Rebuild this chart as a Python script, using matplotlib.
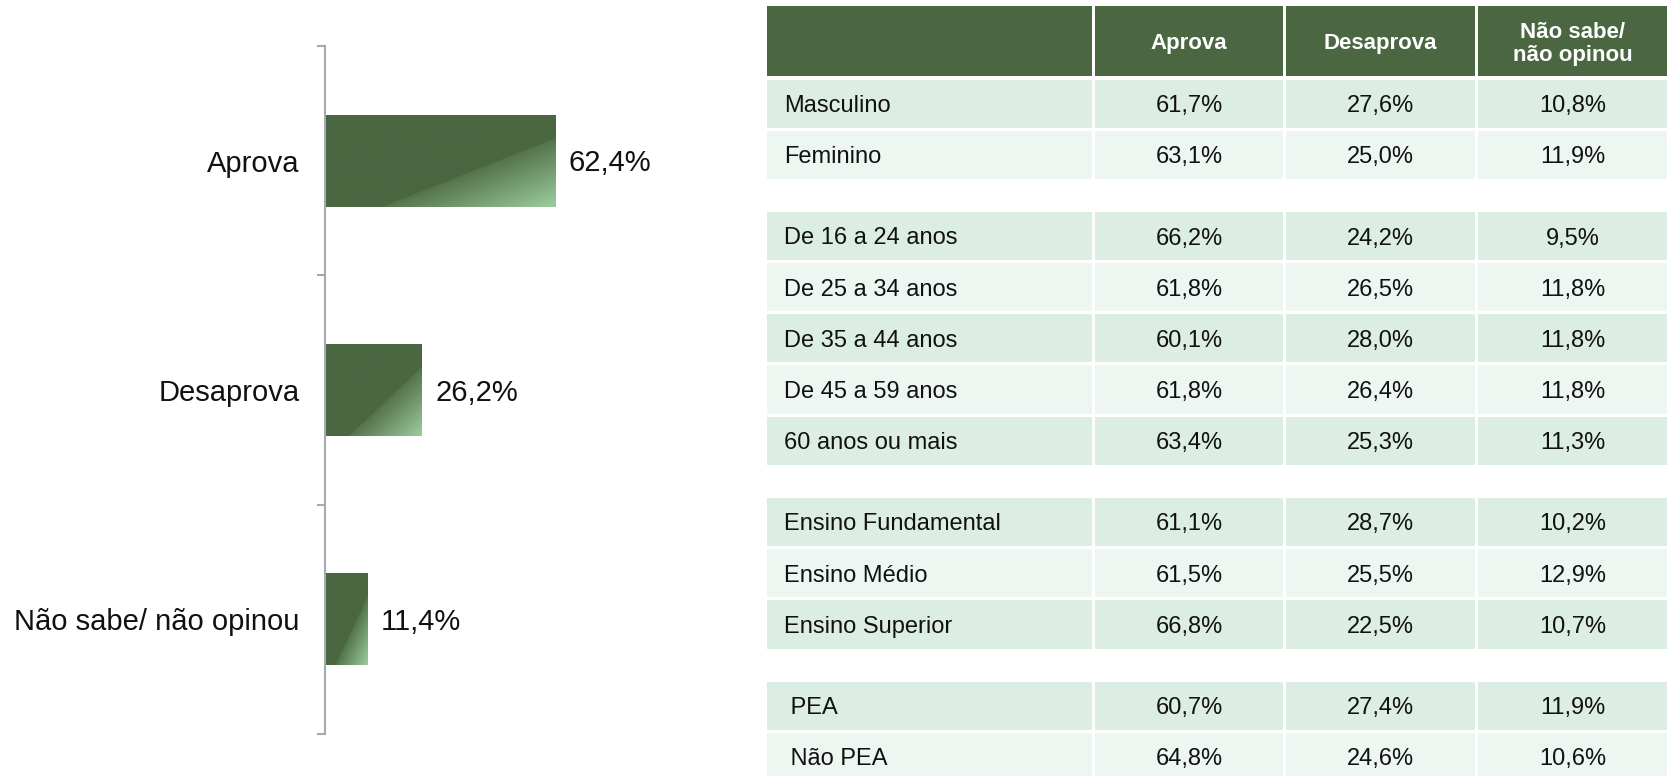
import matplotlib.pyplot as plt
import numpy as np
from matplotlib.patches import Rectangle

plt.rcParams['font.family'] = ['Liberation Sans', 'DejaVu Sans']

# Bar chart data
bar_categories = ['Aprova', 'Desaprova', 'Não sabe/ não opinou']
bar_values = [62.4, 26.2, 11.4]

# Table data
table_columns = ['Aprova', 'Desaprova', 'Não sabe/\nnão opinou']
row_labels = ['Masculino', 'Feminino',
              'De 16 a 24 anos', 'De 25 a 34 anos', 'De 35 a 44 anos',
              'De 45 a 59 anos', '60 anos ou mais',
              'Ensino Fundamental', 'Ensino Médio', 'Ensino Superior',
              ' PEA', ' Não PEA']
group_sizes = [2, 5, 3, 2]
aprova = [61.7, 63.1, 66.2, 61.8, 60.1, 61.8, 63.4, 61.1, 61.5, 66.8, 60.7, 64.8]
desaprova = [27.6, 25.0, 24.2, 26.5, 28.0, 26.4, 25.3, 28.7, 25.5, 22.5, 27.4, 24.6]
nao_sabe = [10.8, 11.9, 9.5, 11.8, 11.8, 11.8, 11.3, 10.2, 12.9, 10.7, 11.9, 10.6]

dark = np.array([74, 103, 65]) / 255
light = np.array([157, 205, 157]) / 255
row_dark = '#dcede3'
row_light = '#eef6f1'
axis_gray = '#a3aab2'

W, H = 1667, 776
fig = plt.figure(figsize=(W / 100, H / 100), dpi=100)


def fmt(v):
    return f'{v:.1f}%'.replace('.', ',')


# ---- left bar chart ----
ax_left, ax_top, ax_bottom = 325, 46, 734
ax = fig.add_axes([ax_left / W, (H - ax_bottom) / H, 368.6 / W, (ax_bottom - ax_top) / H])
y = np.arange(len(bar_categories))
bars = ax.barh(y, bar_values, height=0.4, color=dark, zorder=1)

# diagonal light sheen in the lower-right corner of each bar
u = np.linspace(0, 1, 300)
v = np.linspace(0, 1, 120)
U, V = np.meshgrid(u, v)
s = (U + V - 1.25) / 0.75
grad = np.where(s > 0, 0.12 + 0.88 * np.clip(s, 0, 1), 0.0)
img = dark[None, None, :] * (1 - grad[..., None]) + light[None, None, :] * grad[..., None]

for bar, val in zip(bars, bar_values):
    x0, y0, w, h = bar.get_x(), bar.get_y(), bar.get_width(), bar.get_height()
    im = ax.imshow(img, extent=(x0, x0 + w, y0 + h, y0), origin='upper',
                   aspect='auto', interpolation='bilinear', zorder=2)
    im.set_clip_path(bar)
    ax.annotate(fmt(val), (x0 + w, y0 + h / 2), xytext=(10, -2),
                textcoords='offset points', ha='left', va='center',
                fontsize=21, color='#111111')

ax.set_xlim(0, 100)
ax.set_ylim(len(bar_categories) - 0.5, -0.5)
for side in ['top', 'right', 'bottom']:
    ax.spines[side].set_visible(False)
ax.spines['left'].set_color(axis_gray)
ax.spines['left'].set_linewidth(1.5)
ax.set_xticks([])
ax.set_yticks(np.arange(len(bar_categories) + 1) - 0.5)
ax.set_yticklabels([])
ax.tick_params(axis='y', which='major', length=5.8, width=1.5, color=axis_gray)
ax.set_yticks(y, minor=True)
ax.set_yticklabels(bar_categories, minor=True, fontsize=21, color='#111111')
ax.tick_params(axis='y', which='minor', length=0, pad=18.5)
ax.patch.set_alpha(0)

# ---- right table ----
tx0 = 767
tab = fig.add_axes([tx0 / W, 0, (W - tx0) / W, 1])
tab.set_xlim(tx0, W)
tab.set_ylim(H, 0)
tab.axis('off')

col_edges = [(767, 1092), (1095, 1283), (1286, 1475), (1478, 1667)]
header_top, header_h = 6, 70
tab.add_patch(Rectangle((col_edges[0][0], header_top), col_edges[0][1] - col_edges[0][0],
                        header_h, color=dark, lw=0))
for (c0, c1), name in zip(col_edges[1:], table_columns):
    tab.add_patch(Rectangle((c0, header_top), c1 - c0, header_h, color=dark, lw=0))
    tab.text((c0 + c1) / 2, header_top + header_h / 2 + 3, name, ha='center', va='center',
             fontsize=16, fontweight='bold', color='white', linespacing=1.15)

row_h, row_gap, sep = 48.2, 3.0, 30.0
cursor = header_top + header_h + 3.5
idx = 0
for g, size in enumerate(group_sizes):
    if g > 0:
        cursor += sep
    for k in range(size):
        fill = row_dark if k % 2 == 0 else row_light
        for c0, c1 in col_edges:
            tab.add_patch(Rectangle((c0, cursor), c1 - c0, row_h, color=fill, lw=0))
        yc = cursor + row_h / 2 + 2.5
        tab.text(784, yc, row_labels[idx], ha='left', va='center', fontsize=17, color='#111111')
        for (c0, c1), vals in zip(col_edges[1:], [aprova, desaprova, nao_sabe]):
            tab.text((c0 + c1) / 2, yc, fmt(vals[idx]), ha='center', va='center',
                     fontsize=17, color='#111111')
        cursor += row_h + row_gap
        idx += 1

fig.savefig('out.png', dpi=100)
